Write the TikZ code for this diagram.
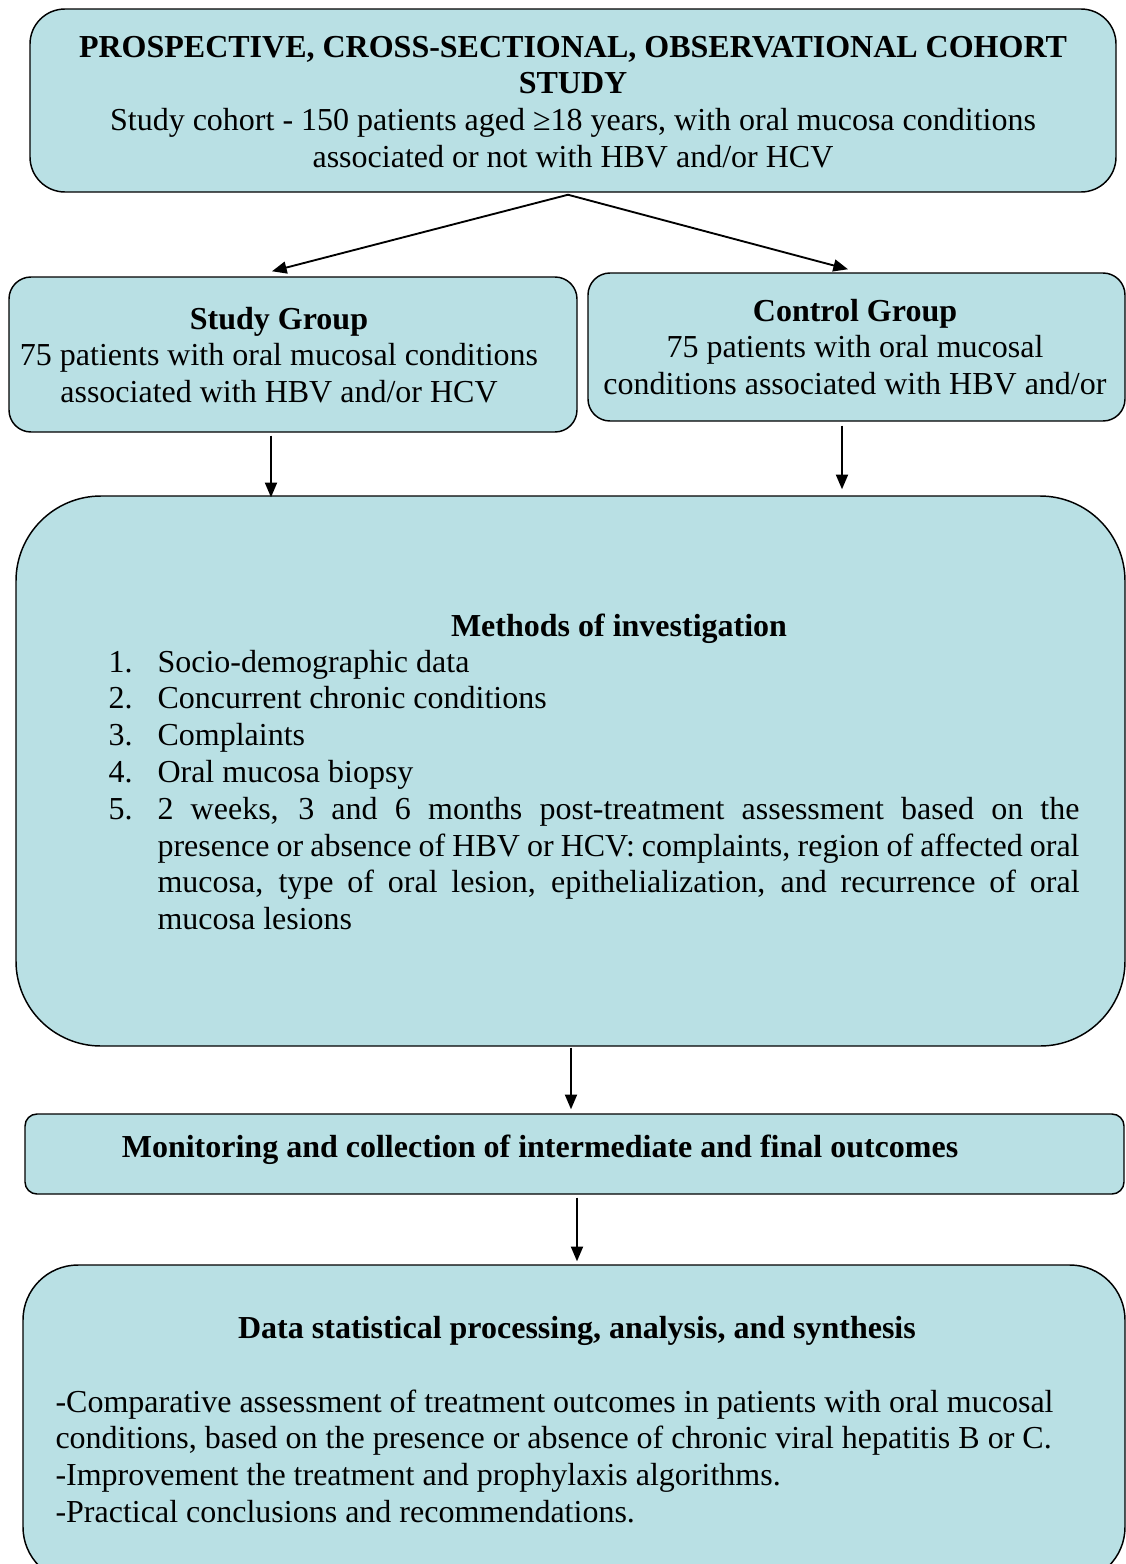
\documentclass[tikz,border=0pt]{standalone}
\usepackage{fontspec}
\setmainfont{Liberation Serif}
\usetikzlibrary{arrows.meta,calc}
\definecolor{boxfill}{RGB}{185,224,228}
\newcommand\natspacing{\spaceskip=\fontdimen2\font\xspaceskip=\fontdimen2\font\relax}
\newcommand\bfline[1]{\textbf{\natspacing #1}}
\tikzset{
  box/.style={draw=black, line width=0.55pt, fill=boxfill, inner sep=0pt},
  arr/.style={-{Triangle[length=5.5pt,width=4.5pt]}, line width=0.7pt},
  txt/.style={inner sep=0pt, font=\fontsize{12pt}{13.8pt}\selectfont},
}
\begin{document}
\begin{tikzpicture}[x=0.375pt,y=-0.375pt]
\useasboundingbox (0,0) rectangle (1126,1564);
% boxes
\node[box, rounded corners=13.125pt, minimum width=407.25pt, minimum height=68.625pt] (top) at (573,100.5) {};
\node[box, rounded corners=8.25pt, minimum width=213pt, minimum height=58.125pt] (sg) at (293,354.5) {};
\node[box, rounded corners=8.25pt, minimum width=201.375pt, minimum height=55.5pt] (cg) at (856.5,347) {};
\node[box, rounded corners=31.875pt, minimum width=415.875pt, minimum height=206.25pt] (meth) at (570.5,771) {};
\node[box, rounded corners=4.5pt, minimum width=412.125pt, minimum height=30pt] (mon) at (574.5,1154) {};
\node[box, rounded corners=20.625pt, minimum width=413.25pt, minimum height=118.875pt] (data) at (574,1423.5) {};
% texts
\node[txt, anchor=base, text width=420pt, align=center] (toptxt) at (573,57)
 {\natspacing
  \bfline{PROSPECTIVE, CROSS-SECTIONAL, OBSERVATIONAL COHORT}\\
  \bfline{STUDY}\\
  Study cohort - 150 patients aged ≥18 years, with oral mucosa conditions\\
  associated or not with HBV and/or HCV};
\node[txt, anchor=base, text width=213pt, align=center] (sgtxt) at (279,329)
 {\natspacing
  \bfline{Study Group}\\
  75 patients with oral mucosal conditions\\
  associated with HBV and/or HCV};
\node[txt, anchor=base, text width=201pt, align=center] (cgtxt) at (855,321)
 {\natspacing
  \bfline{Control Group}\\
  75 patients with oral mucosal\\
  conditions associated with HBV and/or};
\node[txt, anchor=base] (methtitle) at (619,636) {\textbf{Methods of investigation}};
\node[txt, anchor=base west, text width=364.125pt, align=justify] (methlist) at (108,672)
 {\hangindent=18.375pt\hangafter=1\makebox[18.375pt][l]{1.}Socio-demographic data\par
  \hangindent=18.375pt\hangafter=1\makebox[18.375pt][l]{2.}Concurrent chronic conditions\par
  \hangindent=18.375pt\hangafter=1\makebox[18.375pt][l]{3.}Complaints\par
  \hangindent=18.375pt\hangafter=1\makebox[18.375pt][l]{4.}Oral mucosa biopsy\par
  \hangindent=18.375pt\hangafter=1\makebox[18.375pt][l]{5.}2 weeks, 3 and 6 months post-treatment assessment based on the\linebreak
  presence or absence of HBV or HCV: complaints, region of affected oral\linebreak
  mucosa, type of oral lesion, epithelialization, and recurrence of oral\linebreak
  mucosa lesions\par};
\node[txt, anchor=base] (montxt) at (540,1157) {\textbf{Monitoring and collection of intermediate and final outcomes}};
\node[txt, anchor=base] (datatitle) at (577,1338) {\textbf{Data statistical processing, analysis, and synthesis}};
\node[txt, anchor=base west, text width=405pt, align=left] (datalist) at (55,1412)
 {\natspacing
  -Comparative assessment of treatment outcomes in patients with oral mucosal\\
  conditions, based on the presence or absence of chronic viral hepatitis B or C.\\
  -Improvement the treatment and prophylaxis algorithms.\\
  -Practical conclusions and recommendations.};
% connectors
\coordinate (s1) at ($(top.south)+(-5,2)$);
\draw[arr] (s1) -- ($(sg.north)+(-21,-5)$);
\draw[arr] (s1) -- ($(cg.north)+(-8.5,-3)$);
\coordinate (s2) at ($(sg.south)+(-22,3)$);
\draw[arr] (s2) -- ($(s2 |- meth.north)+(0,2)$);
\coordinate (s3) at ($(cg.south)+(-14.5,4)$);
\draw[arr] (s3) -- ($(s3 |- meth.north)+(0,-6)$);
\coordinate (s4) at ($(meth.south)+(0.5,1)$);
\draw[arr] (s4) -- ($(s4 |- mon.north)+(0,-4)$);
\coordinate (s5) at ($(mon.south)+(2.5,3)$);
\draw[arr] (s5) -- ($(s5 |- data.north)+(0,-3)$);
\end{tikzpicture}
\end{document}
